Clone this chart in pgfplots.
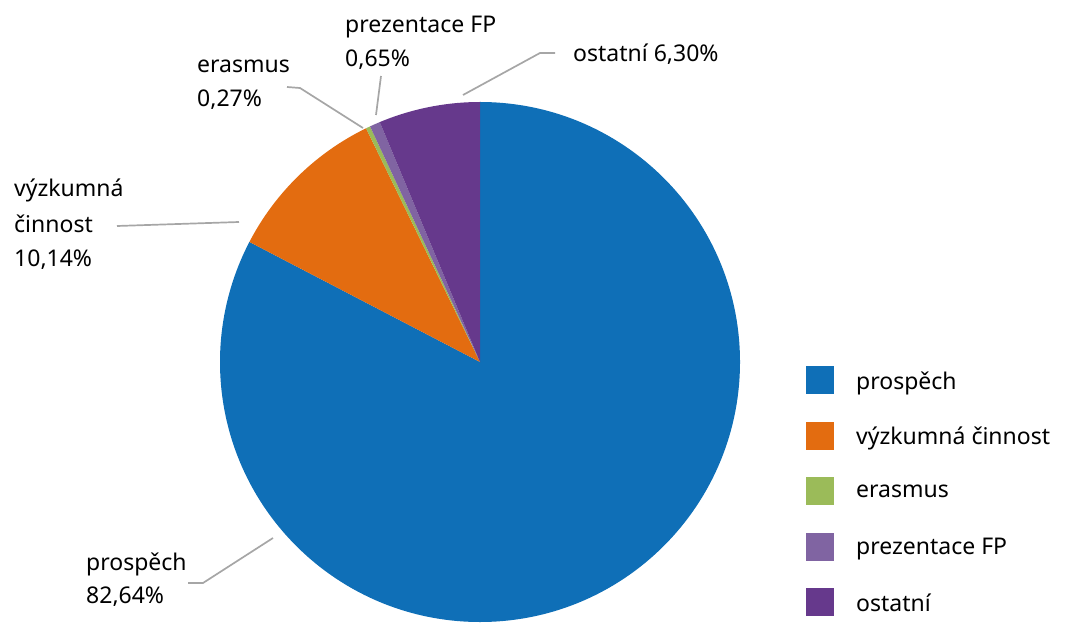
\documentclass[border=0pt]{standalone}
\usepackage{pgfplots}
\pgfplotsset{compat=1.18}
\usepackage{fontspec}
\setmainfont{Noto Sans}
\definecolor{cA}{HTML}{0F6FB7}
\definecolor{cB}{HTML}{E36C10}
\definecolor{cC}{HTML}{9BBB59}
\definecolor{cD}{HTML}{8064A2}
\definecolor{cE}{HTML}{66398C}
\definecolor{lead}{HTML}{A6A6A6}
\pgfplotsset{sq legend/.style={legend image code/.code={\fill[##1] (0bp,-14bp) rectangle (28bp,14bp);}}}
\begin{document}
\begin{tikzpicture}[font=\fontsize{23bp}{28bp}\selectfont]
\begin{axis}[
  x=1bp, y=1bp, xmin=0, xmax=1066, ymin=0, ymax=622,
  scale only axis, hide axis, clip=false,
  legend cell align=left,
  legend style={draw=none, fill=none, inner sep=0pt, at={(axis cs:806,256)}, anchor=north west,
    row sep=27.5bp, column sep=0pt,
    nodes={inner sep=0pt, text depth=0pt},
    /tikz/every odd column/.style={column sep=22bp}},
]
\path (axis cs:0,0) rectangle (axis cs:1066,622);
\addlegendimage{sq legend, fill=cA, draw=none}\addlegendentry{prospěch}
\addlegendimage{sq legend, fill=cB, draw=none}\addlegendentry{výzkumná činnost}
\addlegendimage{sq legend, fill=cC, draw=none}\addlegendentry{erasmus}
\addlegendimage{sq legend, fill=cD, draw=none}\addlegendentry{prezentace FP}
\addlegendimage{sq legend, fill=cE, draw=none}\addlegendentry{ostatní}
\pgfplotsextra{
  \foreach \v/\c [remember=\e as \s (initially 90)] in {82.64/cA,10.14/cB,0.27/cC,0.65/cD,6.30/cE}{
    \pgfmathsetmacro\e{\s-3.6*\v}
    \fill[\c] (axis cs:480,260) -- ++(\s:260bp) arc[start angle=\s,end angle=\e,radius=260bp] -- cycle;
  }
}
% leader lines
\draw[lead, line width=1.7bp] (axis cs:188,39) -- (axis cs:203,39) -- (axis cs:273,84);
\draw[lead, line width=1.7bp] (axis cs:117,396) -- (axis cs:239,400);
\draw[lead, line width=1.7bp] (axis cs:287,535) -- (axis cs:300,534) -- (axis cs:363,494);
\draw[lead, line width=1.7bp] (axis cs:381,546) -- (axis cs:376,507);
\draw[lead, line width=1.7bp] (axis cs:555,569) -- (axis cs:540,569) -- (axis cs:463,527);
% labels
\node[anchor=base west, inner sep=0pt] at (axis cs:86,52) {prospěch};
\node[anchor=base west, inner sep=0pt] at (axis cs:86,19) {82,64\%};
\node[anchor=base west, inner sep=0pt] at (axis cs:14,425) {výzkumná};
\node[anchor=base west, inner sep=0pt] at (axis cs:14,389) {činnost};
\node[anchor=base west, inner sep=0pt] at (axis cs:14,355) {10,14\%};
\node[anchor=base west, inner sep=0pt] at (axis cs:197,549) {erasmus};
\node[anchor=base west, inner sep=0pt] at (axis cs:197,515) {0,27\%};
\node[anchor=base west, inner sep=0pt] at (axis cs:345,589) {prezentace FP};
\node[anchor=base west, inner sep=0pt] at (axis cs:345,555) {0,65\%};
\node[anchor=base west, inner sep=0pt] at (axis cs:573,560) {ostatní 6,30\%};
\end{axis}
\end{tikzpicture}
\end{document}
